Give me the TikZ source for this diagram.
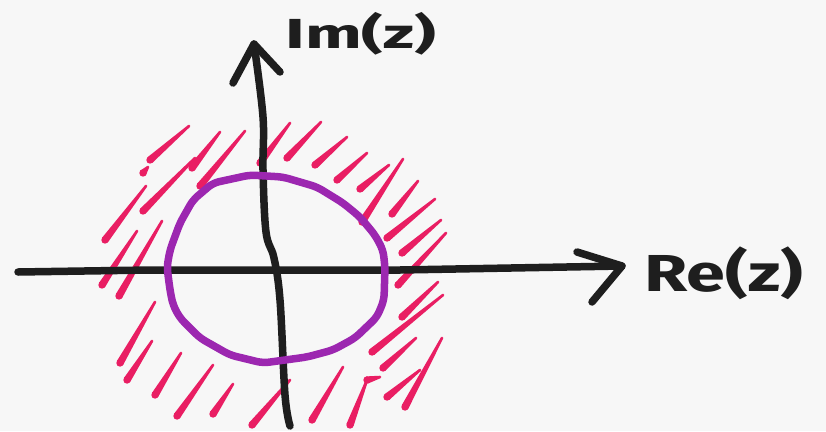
\documentclass[tikz,border=0pt]{standalone}
\usepackage{fontspec}
\setmainfont{Fira Sans}
\usetikzlibrary{calc}
\definecolor{hatchcol}{HTML}{E91E63}
\definecolor{circcol}{HTML}{9C27B0}
\definecolor{axiscol}{HTML}{1E1E1E}
\definecolor{bgcol}{HTML}{F7F7F7}
\newcommand{\hatchstroke}[4]{%
  \coordinate (hA) at (#1,#2);
  \coordinate (hB) at (#3,#4);
  \fill[hatchcol] (hA) circle (3.7pt);
  \fill[hatchcol] ($(hA)!3.7pt!90:(hB)$) -- ($(hB)!1.3pt!-90:(hA)$) -- ($(hB)!1.3pt!90:(hA)$) -- ($(hA)!3.7pt!-90:(hB)$) -- cycle;
  \fill[hatchcol] (hB) circle (1.3pt);
}
\begin{document}
\begin{tikzpicture}[x=1pt,y=-1pt,
  axisline/.style={draw=axiscol,line width=7.5pt,line cap=round,line join=round},
  circline/.style={draw=circcol,line width=7.5pt,line join=round,rounded corners=6pt},
  label/.style={text=axiscol,inner sep=0pt}]
\fill[bgcol] (0,0) rectangle (826,431);
\useasboundingbox (0,0) rectangle (826,431);

% hatching
\hatchstroke{150}{160}{189}{126}
\hatchstroke{143}{173}{148}{167}
\hatchstroke{192}{168}{220}{132}
\hatchstroke{200}{186}{245}{131}
\hatchstroke{143}{211}{195}{158}
\hatchstroke{105}{240}{146}{186}
\hatchstroke{102}{285}{137}{231}
\hatchstroke{119}{296}{162}{221}
\hatchstroke{260}{163}{290}{123}
\hatchstroke{287}{158}{321}{122}
\hatchstroke{315}{165}{347}{137}
\hatchstroke{337}{180}{367}{153}
\hatchstroke{360}{189}{389}{165}
\hatchstroke{362}{222}{403}{159}
\hatchstroke{392}{214}{418}{181}
\hatchstroke{387}{238}{435}{199}
\hatchstroke{402}{253}{441}{220}
\hatchstroke{398}{285}{446}{233}
\hatchstroke{402}{317}{438}{282}
\hatchstroke{372}{352}{443}{295}
\hatchstroke{383}{368}{416}{338}
\hatchstroke{350}{425}{367}{380}
\hatchstroke{367}{380}{380}{377}
\hatchstroke{387}{397}{420}{370}
\hatchstroke{405}{407}{442}{338}
\hatchstroke{312}{420}{343}{367}
\hatchstroke{252}{425}{290}{380}
\hatchstroke{120}{363}{155}{302}
\hatchstroke{127}{380}{152}{341}
\hatchstroke{155}{395}{181}{353}
\hatchstroke{177}{416}{213}{365}
\hatchstroke{213}{414}{233}{384}

% axes
\coordinate (xs) at (18,272);
\coordinate (xe) at (622,266);
\coordinate (ys) at (290,426);
\coordinate (ye) at (254,44);
\draw[axisline] (xs) -- (150,270) -- (400,270) -- (xe);
\draw[axisline] (577,252) -- (xe) -- (592,302);
\draw[axisline] plot[smooth,tension=0.6] coordinates {(290,426) (285,395) (280,300) (274,258) (266,232) (263,170) (263,117) (254,44)};
\draw[axisline] (233,83) -- (ye) -- (280,72);

% circle
\draw[circline] (167,267) -- (170,290) -- (173,305) -- (180,318) -- (200,338) -- (230,355)
  -- (263,363) -- (307,357) -- (333,350) -- (355,338) -- (377,317) -- (384,300) -- (385,267)
  -- (383,250) -- (375,235) -- (360,217) -- (343,203) -- (317,187) -- (283,177) -- (250,175)
  -- (213,183) -- (193,200) -- (180,223) -- (170,250) -- cycle;

% labels
\node[label,xscale=1.6,font=\fontsize{42}{44}\selectfont\bfseries] (im) at (361,34) {Im(z)};
\node[label,xscale=1.35,font=\fontsize{52}{54}\selectfont\bfseries] (re) at (724,273) {Re(z)};
\end{tikzpicture}
\end{document}
